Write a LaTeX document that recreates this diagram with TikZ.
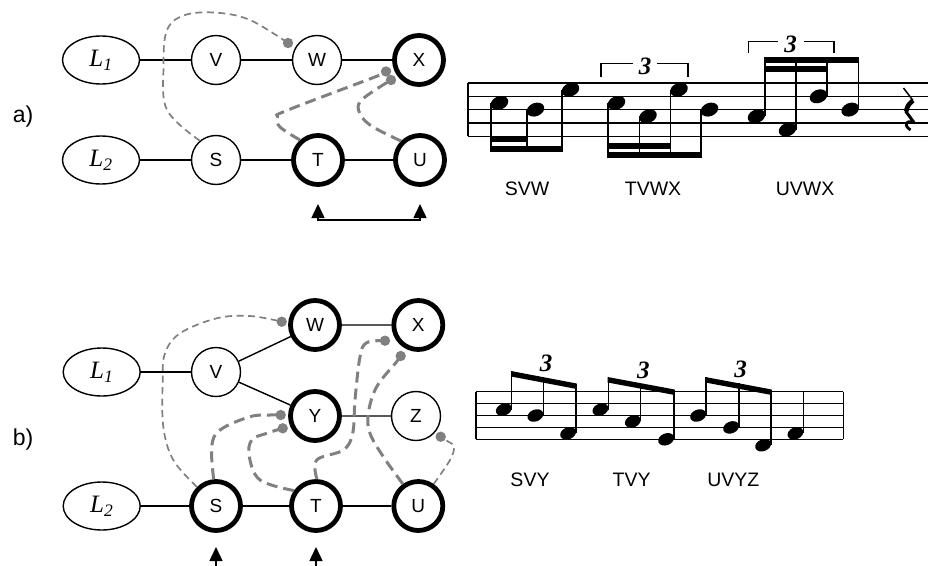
\documentclass[tikz,border=0pt]{standalone}
\usepackage{fontspec}
\setmainfont{Liberation Serif}
\setsansfont{Liberation Sans}
\usetikzlibrary{shapes.geometric,arrows.meta}

\definecolor{tiegray}{RGB}{128,128,128}

\begin{document}
\begin{tikzpicture}[x=1pt,y=-1pt,
  every node/.style={inner sep=0pt},
  vtx/.style={circle, draw, line width=1.4pt, minimum size=49pt,
              font=\sffamily\fontsize{19}{19}\selectfont},
  hub/.style={vtx, line width=4.8pt},
  lat/.style={ellipse, draw, line width=1.4pt, minimum width=77pt, minimum height=48pt,
              font=\itshape\fontsize{25}{25}\selectfont},
  link/.style={line width=1.4pt},
  thintie/.style={tiegray, line width=1.7pt, dash pattern=on 7pt off 4.5pt},
  thicktie/.style={tiegray, line width=3pt, dash pattern=on 11pt off 6pt},
  knob/.style={fill=tiegray},
  pointer/.style={line width=1.5pt, -{Triangle[length=14pt,width=13pt]}},
  panel/.style={font=\sffamily\fontsize{23}{23}\selectfont},
  grp/.style={font=\sffamily\fontsize{19.5}{19.5}\selectfont},
  tup/.style={font=\bfseries\itshape\fontsize{25}{25}\selectfont},
  staffline/.style={line width=1.2pt},
  stem/.style={line width=1.5pt},
  brk/.style={line width=1.3pt},
  smoothpath/.style={smooth, tension=0.6}
]
\useasboundingbox (0,0) rectangle (928,565);

% ---------------- panel a: graph ----------------
\node[panel] (pa) at (23,117) {a)};
\node[lat] (aL1) at (101,60) {L\textsubscript{1}};
\node[vtx] (aV) at (216,60) {V};
\node[vtx] (aW) at (317,60) {W};
\node[hub] (aX) at (419,60) {X};
\node[lat] (aL2) at (101,160) {L\textsubscript{2}};
\node[vtx] (aS) at (216,160) {S};
\node[hub] (aT) at (318,160) {T};
\node[hub] (aU) at (420,160) {U};

\draw[link] (aL1) -- (aV) -- (aW) -- (aX);
\draw[link] (aL2) -- (aS) -- (aT) -- (aU);

% linked pair of inputs under T and U
\coordinate (aTin) at (318,204);
\coordinate (aUin) at (420,204);
\coordinate (aTbase) at (318,220);
\coordinate (aUbase) at (420,220);
\draw[line width=1.5pt, {Triangle[length=14pt,width=13pt]}-{Triangle[length=14pt,width=13pt]}]
  (aTin) -- (aTbase) -- (aUbase) -- (aUin);

% dependency ties
\coordinate (aDotW) at (288,43);
\coordinate (aDotX1) at (386,71.5);
\coordinate (aDotX2) at (391,80);
\draw[thintie] plot[smoothpath] coordinates {(aS.130) (167,110) (163.5,66.7) (167,30) (185,15) (216.7,12.7) (250,20) (aDotW)};
\draw[thicktie] plot[smoothpath] coordinates {(aT.132) (280,127) (277.5,116.7) (288,110) (380,75) (aDotX1)};
\draw[thicktie] plot[smoothpath] coordinates {(aU.135) (370,125) (358.5,110) (363.5,98.3) (aDotX2)};
\foreach \d in {aDotW,aDotX1,aDotX2} \fill[knob] (\d) circle (5.2pt);

% ---------------- panel a: staff ----------------
\foreach \yy in {83,96.3,109.6,122.9,136.2} \draw[staffline] (468,\yy) -- (928,\yy);
\draw[staffline] (468,83) -- (468,136.2);

% heads
\foreach \hx/\hy in {499.5/102.95,535.5/109.6,570.5/89.65,
                     616.5/102.95,648/116.25,679/89.65,709.5/109.6,
                     756.5/116.25,787.5/129.55,818.5/96.3,850.2/109.6}
  \fill[rotate around={22:(\hx,\hy)}] (\hx,\hy) ellipse [x radius=9.1, y radius=6.6];
% stems down
\foreach \sx/\sy in {491/102.95,527/109.6,562/89.65} \draw[stem] (\sx,\sy) -- (\sx,151.7);
\foreach \sx/\sy in {608/102.95,639.5/116.25,670.5/89.65,701/109.6} \draw[stem] (\sx,\sy) -- (\sx,158.3);
% stems up
\foreach \sx/\sy in {765/116.25,796/129.55,827/96.3,858.7/109.6} \draw[stem] (\sx,\sy) -- (\sx,56.7);
% beams
\fill (490.3,145.8) rectangle (562.7,151.7);
\fill (490.3,135.8) rectangle (527.7,141.7);
\fill (607.3,152.4) rectangle (701.7,158.3);
\fill (607.3,142.8) rectangle (671.2,148.7);
\fill (764.3,56.7) rectangle (859.4,62.6);
\fill (764.3,66.3) rectangle (827.7,72.2);
% tuplet brackets
\draw[brk] (601,76.7) -- (601,63.3) -- (632.5,63.3);
\draw[brk] (657,63.3) -- (688,63.3) -- (688,76.7);
\node[tup] (aTup1) at (645,66.5) {3};
\draw[brk] (748.3,53.3) -- (748.3,41.7) -- (777.5,41.7);
\draw[brk] (803.5,41.7) -- (834,41.7) -- (834,53.3);
\node[tup] (aTup2) at (790.5,44.5) {3};
% quarter rest
\draw[line width=1.5pt] (903.5,88) -- (913,100.5);
\draw[line width=4.6pt] (913,100.5) .. controls (908,105) .. (906,111.5);
\draw[line width=3pt] (905.5,111) -- (914,122.5);
\draw[line width=2.8pt] (914,122.5) .. controls (905.5,119.5) and (903,125) .. (910.5,130);

\node[grp] (aG1) at (527,189) {SVW};
\node[grp] (aG2) at (653,189) {TVWX};
\node[grp] (aG3) at (805,189) {UVWX};

% ---------------- panel b: graph ----------------
\node[panel] (pb) at (23,440) {b)};
\node[lat] (bL1) at (101.7,372) {L\textsubscript{1}};
\node[vtx] (bV) at (216,372) {V};
\node[hub] (bW) at (315,325) {W};
\node[hub] (bX) at (418.3,325) {X};
\node[hub] (bY) at (315,416) {Y};
\node[vtx] (bZ) at (416,416) {Z};
\node[lat] (bL2) at (101.7,506) {L\textsubscript{2}};
\node[hub] (bS) at (216,506) {S};
\node[hub] (bT) at (316,506) {T};
\node[hub] (bU) at (418.3,506) {U};

\draw[link] (bL1) -- (bV);
\draw[link] (bV) -- (bW) -- (bX);
\draw[link] (bV) -- (bY) -- (bZ);
\draw[link] (bL2) -- (bS) -- (bT) -- (bU);

% inputs under S and T
\coordinate (bSin) at (216,547);
\coordinate (bSfoot) at (216,566);
\coordinate (bTin) at (316,547);
\coordinate (bTfoot) at (316,566);
\draw[pointer] (bSfoot) -- (bSin);
\draw[pointer] (bTfoot) -- (bTin);

% dependency ties
\coordinate (bDotW) at (281.7,321.7);
\coordinate (bDotY1) at (280.7,415);
\coordinate (bDotY2) at (282.7,428.3);
\coordinate (bDotX1) at (385,340.7);
\coordinate (bDotX2) at (400.7,356);
\coordinate (bDotZ) at (440.7,436.7);
\draw[thintie] plot[smoothpath] coordinates {(bS.135) (173.3,460) (163.3,426.7) (162.7,380) (165,353.3) (180,333.3) (216.7,318.3) (250,316) (bDotW)};
\draw[thicktie] plot[smoothpath] coordinates {(bS.95) (211.7,446.7) (220,430) (250,416.7) (270,415) (bDotY1)};
\draw[thicktie] plot[smoothpath] coordinates {(bT.145) (260,480) (249.3,456.7) (251.7,440) (266.7,433.3) (bDotY2)};
\draw[thicktie] plot[smoothpath] coordinates {(bT.88) (316.7,460) (343.3,450) (352.7,433.3) (355,400) (360,356.7) (366.7,342.7) (bDotX1)};
\draw[thicktie] plot[smoothpath] coordinates {(bU.125) (383.3,456.7) (370,433.3) (368.3,413.3) (376.7,386.7) (396.7,361.7) (bDotX2)};
\draw[thintie] plot[smoothpath] coordinates {(bU.55) (450,460) (454,446.7) (448.3,441.7) (bDotZ)};
\foreach \d in {bDotW,bDotY1,bDotY2,bDotX1,bDotX2,bDotZ} \fill[knob] (\d) circle (5.2pt);

% ---------------- panel b: staff ----------------
\foreach \yy in {391.7,403.6,415.5,427.4,439.3} \draw[staffline] (476,\yy) -- (843.3,\yy);
\draw[staffline] (476,391.7) -- (476,439.3);
\draw[staffline] (843.3,391.7) -- (843.3,439.3);

\foreach \hx/\hy in {503.8/409.55,535.4/415.5,568.1/433.35,
                     600.4/409.55,632.8/421.45,666.1/439.3,
                     698.1/415.5,731.1/427.4,763.1/445.25,795.4/433.35}
  \fill[rotate around={22:(\hx,\hy)}] (\hx,\hy) ellipse [x radius=8.2, y radius=5.9];
\foreach \sx/\sy/\st in {511.7/409.55/371,543.3/415.5/377.1,576/433.35/383.5,
                         608.3/409.55/377,640.7/421.45/383.2,674/439.3/389.5,
                         706/415.5/377,739/427.4/383.3,771/445.25/389.5,
                         803.3/433.35/391}
  \draw[stem] (\sx,\sy) -- (\sx,\st);
\fill (511,371) -- (576.7,383.5) -- (576.7,389) -- (511,376.5) -- cycle;
\fill (607.6,377) -- (674.7,389.5) -- (674.7,395) -- (607.6,382.5) -- cycle;
\fill (705.3,377) -- (771.7,389.5) -- (771.7,395) -- (705.3,382.5) -- cycle;
\node[tup] (bTup1) at (546,363.3) {3};
\node[tup] (bTup2) at (643.3,370) {3};
\node[tup] (bTup3) at (740.7,369.3) {3};

\node[grp] (bG1) at (530,480) {SVY};
\node[grp] (bG2) at (631.7,480) {TVY};
\node[grp] (bG3) at (733.3,480) {UVYZ};
\end{tikzpicture}
\end{document}
